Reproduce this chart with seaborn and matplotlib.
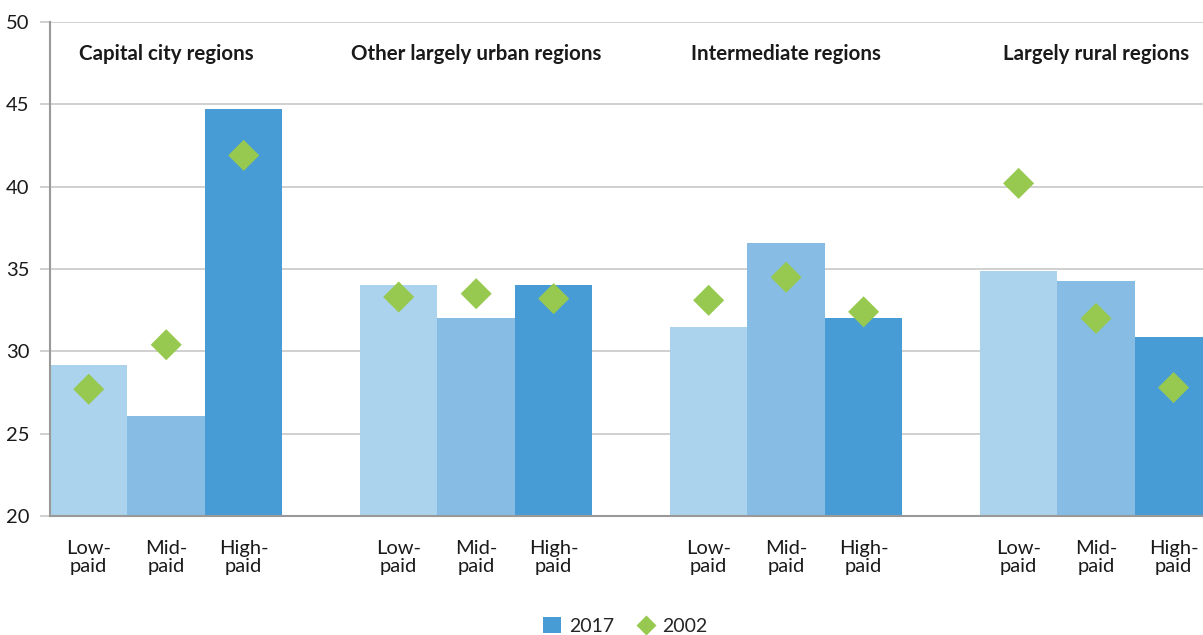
import numpy as np
import pandas as pd
import matplotlib
matplotlib.use("Agg")
import matplotlib.pyplot as plt
from matplotlib.lines import Line2D
from matplotlib.patches import Patch
import seaborn as sns

# data
groups = ["Capital city regions", "Other largely urban regions",
          "Intermediate regions", "Largely rural regions"]
pay_levels = ["Low-\npaid", "Mid-\npaid", "High-\npaid"]
values_2017 = [29.2, 26.1, 44.7,
               34.0, 32.0, 34.0,
               31.5, 36.6, 32.0,
               34.9, 34.3, 30.9]
values_2002 = [27.7, 30.4, 41.9,
               33.3, 33.5, 33.2,
               33.1, 34.5, 32.4,
               40.2, 32.0, 27.8]

bar_colors = ["#abd3ed", "#87bde4", "#489cd5"]
diamond_color = "#97c950"

sns.set_style("white")
plt.rcParams['font.family'] = ['Lato', 'DejaVu Sans']

rows = []
for gi, g in enumerate(groups):
    for pi, p in enumerate(pay_levels):
        k = gi * 3 + pi
        rows.append({"pos": gi * 4 + pi, "group": g, "pay": p,
                     "v2017": values_2017[k], "v2002": values_2002[k]})
df = pd.DataFrame(rows)

fig = plt.figure(figsize=(12.03, 6.35), dpi=100)
ax = fig.add_axes([50 / 1203, 1 - 516 / 635, 1 - 50 / 1203, (516 - 22) / 635])

ax.set_axisbelow(True)
ax.yaxis.grid(True, color="#c8c8c8", linewidth=1.2)

sns.barplot(data=df, x="pos", y="v2017", hue="pay", palette=bar_colors,
            native_scale=True, dodge=False, width=1.0, legend=False,
            saturation=1, linewidth=0, edgecolor="none", ax=ax)
sns.scatterplot(data=df, x="pos", y="v2002", marker="D", s=250,
                color=diamond_color, edgecolor="none", zorder=5, ax=ax,
                legend=False)

ax.set_ylim(20, 50)
ax.set_xlim(-0.5, 14.38)
ax.set_yticks(np.arange(20, 51, 5))
ax.set_xticks(df["pos"])
ax.set_xticklabels(list(pay_levels) * 4)
ax.set_xlabel("")
ax.set_ylabel("")
ax.tick_params(axis="y", which="major", length=7, color="#c8c8c8",
               width=1.2, labelsize=14.5, pad=8, left=True)
ax.tick_params(axis="x", length=0, labelsize=14.5, pad=17)
for lab in ax.get_xticklabels() + ax.get_yticklabels():
    lab.set_color("#1a1a1a")
    lab.set_linespacing(1.1)

for s in ["top", "right"]:
    ax.spines[s].set_visible(False)
for s in ["left", "bottom"]:
    ax.spines[s].set_color("#999999")
    ax.spines[s].set_linewidth(1.5)

for gi, g in enumerate(groups):
    ax.text(gi * 4 + 1, 48.05, g, ha="center", va="center",
            fontsize=14.8, fontweight="bold", color="#1a1a1a")

handles = [Patch(facecolor=bar_colors[2], edgecolor="none", label="2017"),
           Line2D([], [], marker="D", linestyle="none", markersize=10,
                  markerfacecolor=diamond_color, markeredgecolor="none",
                  label="2002")]
fig.legend(handles=handles, loc="center", bbox_to_anchor=(0.52, 0.014),
           ncol=2, frameon=False, fontsize=14, handlelength=0.9,
           handleheight=0.9, columnspacing=1.2, handletextpad=0.4)

fig.savefig("out.png", dpi=100)
